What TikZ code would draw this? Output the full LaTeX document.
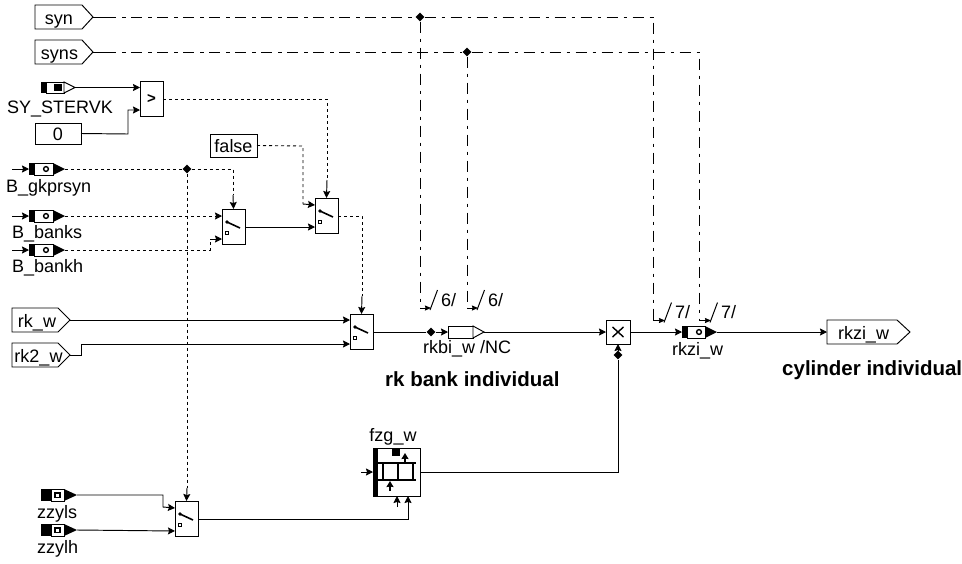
\documentclass[tikz,border=0pt]{standalone}
\usepackage{fontspec}
\setmainfont{Liberation Sans}
\usetikzlibrary{arrows.meta}
\tikzset{
  wire/.style={line width=0.95pt,draw=black},
  arr/.style={wire,-{Stealth[length=7pt,width=7pt,inset=1pt]}},
  logic/.style={line width=0.9pt,draw=black,dash pattern=on 3pt off 3pt},
  logicarr/.style={logic,-{Stealth[length=7pt,width=7pt,inset=1pt]}},
  dashdot/.style={line width=0.95pt,draw=black,dash pattern=on 11pt off 6pt on 3.5pt off 5.5pt},
  box/.style={draw=black,line width=0.95pt,fill=white,inner sep=0pt,outer sep=0pt},
  lab/.style={anchor=base west,inner sep=0pt,font=\fontsize{18}{20}\selectfont},
  blab/.style={lab,font=\fontsize{20.5}{22}\selectfont\bfseries},
  jun/.style={diamond,fill=black,inner sep=0pt,minimum size=9pt},
}
\usetikzlibrary{shapes.geometric}
% boundary signal: name, x left, x body end, x tip, y centre
\newcommand{\pentsig}[5]{%
  \draw[box] (#2,#5-12) -- (#3,#5-12) -- (#4,#5) -- (#3,#5+12) -- (#2,#5+12) -- cycle;
  \coordinate (#1) at (#4,#5);
}
% measured value, black tip: name, x left, y centre, x white end, x tip, black left width
\newcommand{\meas}[6]{%
  \fill[black] (#2,#3-6) rectangle (#2+#6,#3+6);
  \draw[box] (#2+#6,#3-6) rectangle (#4,#3+6);
  \fill[black] (#4,#3-6) -- (#5,#3) -- (#4,#3+6) -- cycle;
  \coordinate (#1in) at (#2,#3);
  \coordinate (#1) at (#5,#3);
}
% switch: name, x left, y top
\newcommand{\switch}[3]{%
  \node[box,minimum width=23pt,minimum height=35.5pt,anchor=north west] (#1) at (#2,#3) {};
  \fill[black] (#2+5,#3+13) circle (1.8pt);
  \draw[line width=1.6pt,black] (#2+5,#3+13) -- (#2+18,#3+19);
  \draw[line width=1pt,black] (#2+3.7,#3+22.7) rectangle (#2+6.3,#3+25.3);
  \coordinate (#1t) at (#2+11.5,#3);
  \coordinate (#1a) at (#2,#3+7);
  \coordinate (#1b) at (#2,#3+30);
  \coordinate (#1o) at (#2+23,#3+18);
}
% slash mark: name, x of the incoming line, y of the bend, x of the slash, text
\newcommand{\slashmark}[5]{%
  \coordinate (#1) at (#2,#3);
  \draw[line width=1pt,black] (#4,#3+2) -- (#4+7.5,#3-18);
  \node[lab] (#1t) at (#4+11,#3-2) {#5};
}
\begin{document}
\begin{tikzpicture}[x=1pt,y=-1pt]
\useasboundingbox (0,0) rectangle (962,563);
% boundary signals
\pentsig{syn}{35}{82}{93}{17}
\node[lab,anchor=base] (syntxt) at (59,24.5) {syn};
\pentsig{syns}{35}{82}{93}{52}
\node[lab,anchor=base] (synstxt) at (59.5,59) {syns};
\pentsig{rkw}{12}{58}{70}{320}
\node[lab,anchor=base] (rkwtxt) at (37,327) {rk\_w};
\pentsig{rktw}{12}{58}{70}{355}
\node[lab,anchor=base] (rktwtxt) at (38.5,362) {rk2\_w};
\pentsig{rkzo}{827}{897}{910}{332}
\coordinate (rkzoin) at (827,332);
\node[lab,anchor=base] (rkzotxt) at (863.5,339) {rkzi\_w};
% constants
\node[box,minimum width=46pt,minimum height=21pt,anchor=north west] (zero) at (35,123) {};
\node[lab,anchor=base] (zerotxt) at (58,140) {0};
\node[box,minimum width=47pt,minimum height=23pt,anchor=north west] (false) at (210,134) {};
\node[lab,anchor=base] (falsetxt) at (233.5,152) {false};
% SY_STERVK
\fill[black] (41,82) rectangle (46,93);
\draw[box] (46,82) rectangle (64,93);
\fill[black] (54,84) rectangle (62,91);
\draw[box] (64,82) -- (75,87.5) -- (64,93) -- cycle;
\coordinate (sy) at (75,87.5);
\node[lab] (sylab) at (7,113) {SY\_STERVK};
% comparator
\node[box,minimum width=23pt,minimum height=35pt,anchor=north west] (cmp) at (140,81) {};
\node[font=\fontsize{15}{16}\selectfont\bfseries,inner sep=0pt] (cmptxt) at (151.5,99) {>};
\coordinate (cmpa) at (140,87.5);
\coordinate (cmpb) at (140,110);
\coordinate (cmpo) at (163,99);
% inputs
\meas{gk}{29}{169}{53}{65}{5}
\meas{bs}{29}{216}{53}{65}{5}
\meas{bh}{29}{250}{53}{65}{5}
\foreach \yy in {169,216,250}{\draw[line width=1.4pt,black] (46,\yy) circle (2.4pt);}
\coordinate (gkst) at (12,169);
\coordinate (bsst) at (12,216);
\coordinate (bhst) at (12,250);
\node[lab] (gklab) at (6,192) {B\_gkprsyn};
\node[lab] (bslab) at (12,238) {B\_banks};
\node[lab] (bhlab) at (12,272) {B\_bankh};
\meas{zs}{41}{495}{64}{77}{10}
\meas{zh}{41}{530}{64}{77}{10}
\foreach \yy in {495,530}{\fill[black] (54,\yy-3) rectangle (61,\yy+3);\fill[white] (56,\yy-1.5) rectangle (59,\yy+1.5);}
\node[lab] (zslab) at (37,518) {zzyls};
\node[lab] (zhlab) at (37,553) {zzylh};
% switches
\switch{swa}{222}{209}
\switch{swb}{315}{198}
\switch{swc}{350}{314}
\switch{swd}{175}{501}
% junctions
\node[jun] (j1) at (420,17) {};
\node[jun] (j2) at (467,52) {};
\node[jun] (j3) at (187,169) {};
\node[jun] (j4) at (431,332) {};
\node[jun] (j5) at (618,355) {};
% multiplier
\node[box,minimum width=24pt,minimum height=24pt,anchor=north west] (mul) at (606,320) {};
\draw[line width=1.4pt,black] (612.5,327) -- (623.5,337) (623.5,327) -- (612.5,337);
\coordinate (mulbot) at (618,344);
% rkbi
\draw[box] (448,326) rectangle (473,338);
\draw[box] (473,326) -- (484,332) -- (473,338) -- cycle;
\coordinate (rbin) at (448,332);
\coordinate (rbout) at (484,332);
\node[lab] (rblab) at (423,353) {rkbi\_w /NC};
% rkzi
\meas{rz}{682}{332}{705}{717}{5}
\draw[line width=1.4pt,black] (699,332) circle (2.4pt);
\node[lab] (rzlab) at (672,355) {rkzi\_w};
% slash marks
\slashmark{ma}{420}{308}{430}{6/}
\slashmark{mb}{467}{308}{477}{6/}
\slashmark{mc}{653}{320.5}{664}{7/}
\slashmark{md}{699}{320.5}{710}{7/}
% fzg map
\node[box,minimum width=47pt,minimum height=48pt,anchor=north west] (fzg) at (373,448) {};
\fill[black] (373,448) rectangle (378,496);
\fill[black] (392,448) rectangle (400,456);
\draw[line width=1.5pt,black] (376,463) -- (416,463) (376,480) -- (416,480) (383,463) -- (383,480) (398,463) -- (398,480) (413,463) -- (413,480);
\draw[-{Stealth[length=6pt,width=7pt,inset=0.5pt]},line width=1.4pt,black] (405,463) -- (405,453);
\draw[-{Stealth[length=6pt,width=7pt,inset=0.5pt]},line width=1.4pt,black] (390,491) -- (390,481);
\coordinate (fzgin) at (373,472);
\coordinate (fzgst) at (361,472);
\coordinate (fzgo) at (420,472);
\coordinate (fzga) at (397,496);
\coordinate (fzgast) at (397,507);
\coordinate (fzgb) at (408,496);
\node[lab,anchor=base] (fzglab) at (393,441) {fzg\_w};
% labels
\node[blab] (rkind) at (385,386) {rk bank individual};
\node[blab] (cylind) at (782,375) {cylinder individual};
% dash-dot wires
\draw[wire] (syn) -- (105,17);
\draw[wire] (syns) -- (105,52);
\draw[dashdot] (105,17) -- (j1) -- (653,17) -- (mc);
\draw[dashdot] (j1) -- (ma);
\draw[dashdot] (105,52) -- (j2) -- (699,52) -- (md);
\draw[dashdot] (j2) -- (mb);
\draw[wire,-{Stealth[length=6pt,width=5pt,inset=0.5pt]}] (ma) -- (431,308);
\draw[wire,-{Stealth[length=6pt,width=5pt,inset=0.5pt]}] (mb) -- (478,308);
\draw[wire,-{Stealth[length=6pt,width=5pt,inset=0.5pt]}] (mc) -- (665,320.5);
\draw[wire,-{Stealth[length=6pt,width=5pt,inset=0.5pt]}] (md) -- (711,320.5);
% solid wires
\draw[arr] (sy) -- (cmpa);
\draw[arr] (zero.east) -- (128,134) -- (128,110) -- (cmpb);
\draw[arr] (gkst) -- (gkin);
\draw[arr] (bsst) -- (bsin);
\draw[arr] (bhst) -- (bhin);
\draw[arr] (swao) -- (swb.west |- swao);
\draw[arr] (rkw) -- (swc.west |- rkw);
\draw[arr] (rktw) -- (81,355) -- (81,344) -- (swcb);
\draw[wire] (swco) -- (j4);
\draw[arr] (j4) -- (rbin);
\draw[arr] (rbout) -- (mul.west |- rbout);
\draw[arr] (mul.east |- rbout) -- (rzin);
\draw[arr] (rz) -- (rkzoin);
\draw[arr] (j5) -- (mulbot);
\draw[wire] (fzgo) -- (618,472) -- (j5);
\draw[arr] (fzgst) -- (fzgin);
\draw[arr] (fzgast) -- (fzga);
\draw[arr] (zs) -- (163,495) -- (163,507) -- (swda);
\draw[arr] (zh) -- (swdb);
\draw[arr] (swdo) -- (408,519) -- (fzgb);
% logic wires
\draw[logic] (cmpo) -- (327,99) -- (327,180);
\draw[arr] (327,180) -- (swbt);
\draw[logic] (false.east) -- (303,146) -- (303,204);
\draw[arr] (303,204) -- (swba);
\draw[logic] (gk) -- (j3) -- (233,169) -- (233,195);
\draw[arr] (233,195) -- (swat);
\draw[logicarr] (bs) -- (swaa);
\draw[logic] (bh) -- (210,250) -- (210,239);
\draw[arr] (210,239) -- (swab);
\draw[logic] (swbo) -- (362,216) -- (362,296);
\draw[arr] (362,296) -- (swct);
\draw[logic] (j3) -- (187,488);
\draw[arr] (187,488) -- (swdt);
\end{tikzpicture}
\end{document}
